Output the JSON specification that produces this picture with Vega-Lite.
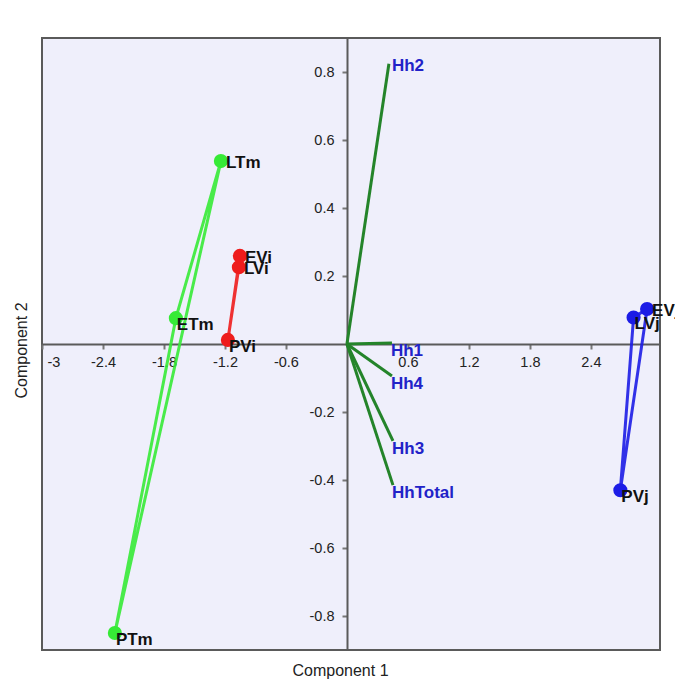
{
  "$schema": "https://vega.github.io/schema/vega-lite/v6.json",
  "width": 618,
  "height": 612,
  "autosize": "none",
  "padding": {"left": 42, "top": 38, "right": 15, "bottom": 30},
  "background": "white",
  "config": {
    "view": {"fill": "#EFEFFB", "stroke": "#5a5a5a", "strokeWidth": 2},
    "font": "Liberation Sans"
  },
  "datasets": {
    "pts": [
      {"name": "LTm", "group": "Tm", "PC1": -1.24, "PC2": 0.538},
      {"name": "ETm", "group": "Tm", "PC1": -1.683, "PC2": 0.076},
      {"name": "PTm", "group": "Tm", "PC1": -2.283, "PC2": -0.85},
      {"name": "EVi", "group": "Vi", "PC1": -1.053, "PC2": 0.259},
      {"name": "LVi", "group": "Vi", "PC1": -1.063, "PC2": 0.226},
      {"name": "PVi", "group": "Vi", "PC1": -1.171, "PC2": 0.012},
      {"name": "EVj", "group": "Vj", "PC1": 2.953, "PC2": 0.103},
      {"name": "LVj", "group": "Vj", "PC1": 2.82, "PC2": 0.078},
      {"name": "PVj", "group": "Vj", "PC1": 2.69, "PC2": -0.43}
    ],
    "tri": [
      {"group": "Tm", "ord": 1, "PC1": -2.283, "PC2": -0.85},
      {"group": "Tm", "ord": 2, "PC1": -1.683, "PC2": 0.076},
      {"group": "Tm", "ord": 3, "PC1": -1.24, "PC2": 0.538},
      {"group": "Tm", "ord": 4, "PC1": -2.283, "PC2": -0.85},
      {"group": "Vi", "ord": 1, "PC1": -1.171, "PC2": 0.012},
      {"group": "Vi", "ord": 2, "PC1": -1.063, "PC2": 0.226},
      {"group": "Vi", "ord": 3, "PC1": -1.053, "PC2": 0.259},
      {"group": "Vi", "ord": 4, "PC1": -1.171, "PC2": 0.012},
      {"group": "Vj", "ord": 1, "PC1": 2.69, "PC2": -0.43},
      {"group": "Vj", "ord": 2, "PC1": 2.82, "PC2": 0.078},
      {"group": "Vj", "ord": 3, "PC1": 2.953, "PC2": 0.103},
      {"group": "Vj", "ord": 4, "PC1": 2.69, "PC2": -0.43}
    ],
    "load": [
      {"name": "Hh1", "PC1": 0.443, "PC2": 0.003},
      {"name": "Hh2", "PC1": 0.413, "PC2": 0.824},
      {"name": "Hh3", "PC1": 0.453, "PC2": -0.285},
      {"name": "Hh4", "PC1": 0.443, "PC2": -0.094},
      {"name": "HhTotal", "PC1": 0.453, "PC2": -0.415}
    ]
  },
  "layer": [
    {
      "data": {"name": "tri"},
      "mark": {"type": "line", "strokeWidth": 3, "opacity": 0.9},
      "encoding": {
        "x": {
          "field": "PC1", "type": "quantitative",
          "scale": {"domain": [-3, 3.08], "nice": false, "zero": false},
          "axis": {
            "title": "Component 1", "offset": -306, "grid": false,
            "values": [-3, -2.4, -1.8, -1.2, -0.6, 0.6, 1.2, 1.8, 2.4],
            "labelExpr": "toString(datum.value)",
            "labelFlush": true, "labelFlushOffset": -5, "labelFontSize": 14.5, "labelColor": "#222222",
            "labelPadding": 6, "tickSize": 5, "tickColor": "#777777", "tickWidth": 2,
            "domainColor": "#5a5a5a", "domainWidth": 2,
            "titleFontSize": 16, "titleFontWeight": "normal", "titleColor": "#222222",
            "titleY": 318, "titleX": 298
          }
        },
        "y": {
          "field": "PC2", "type": "quantitative",
          "scale": {"domain": [-0.9, 0.9], "nice": false, "zero": false},
          "axis": {
            "title": "Component 2", "offset": -305, "grid": false,
            "values": [-0.8, -0.6, -0.4, -0.2, 0.2, 0.4, 0.6, 0.8],
            "labelExpr": "toString(datum.value)",
            "labelFontSize": 14.5, "labelColor": "#222222",
            "labelPadding": 8, "tickSize": 5, "tickColor": "#777777", "tickWidth": 2,
            "domainColor": "#5a5a5a", "domainWidth": 2,
            "titleFontSize": 16, "titleFontWeight": "normal", "titleColor": "#222222",
            "titleX": -318, "titleY": 312
          }
        },
        "color": {
          "field": "group", "type": "nominal",
          "scale": {"domain": ["Tm", "Vi", "Vj"], "range": ["#36ea36", "#ee1c1c", "#1c1ce6"]},
          "legend": null
        },
        "order": {"field": "ord", "type": "quantitative"}
      }
    },
    {
      "data": {"name": "load"},
      "mark": {"type": "rule", "strokeWidth": 3, "color": "#24842a"},
      "encoding": {
        "x": {"field": "PC1", "type": "quantitative"},
        "y": {"field": "PC2", "type": "quantitative"},
        "x2": {"datum": 0},
        "y2": {"datum": 0}
      }
    },
    {
      "data": {"name": "pts"},
      "mark": {"type": "circle", "size": 200, "opacity": 1},
      "encoding": {
        "x": {"field": "PC1", "type": "quantitative"},
        "y": {"field": "PC2", "type": "quantitative"},
        "color": {"field": "group", "type": "nominal", "legend": null}
      }
    },
    {
      "data": {"name": "pts"},
      "transform": [{"filter": {"field": "name", "oneOf": ["LTm", "EVi", "LVi", "EVj"]}}],
      "mark": {"type": "text", "align": "left", "baseline": "middle", "dx": 5, "dy": 2, "fontSize": 17, "fontWeight": "bold", "color": "#111111"},
      "encoding": {
        "x": {"field": "PC1", "type": "quantitative"},
        "y": {"field": "PC2", "type": "quantitative"},
        "text": {"field": "name"}
      }
    },
    {
      "data": {"name": "pts"},
      "transform": [{"filter": {"field": "name", "oneOf": ["ETm", "PTm", "PVi", "LVj", "PVj"]}}],
      "mark": {"type": "text", "align": "left", "baseline": "top", "dx": 1, "dy": -1, "fontSize": 17, "fontWeight": "bold", "color": "#111111"},
      "encoding": {
        "x": {"field": "PC1", "type": "quantitative"},
        "y": {"field": "PC2", "type": "quantitative"},
        "text": {"field": "name"}
      }
    },
    {
      "data": {"name": "load"},
      "transform": [{"filter": {"field": "name", "equal": "Hh2"}}],
      "mark": {"type": "text", "align": "left", "baseline": "middle", "dx": 3, "dy": 2, "fontSize": 17, "fontWeight": "bold", "color": "#2222c8"},
      "encoding": {
        "x": {"field": "PC1", "type": "quantitative"},
        "y": {"field": "PC2", "type": "quantitative"},
        "text": {"field": "name"}
      }
    },
    {
      "data": {"name": "load"},
      "transform": [{"filter": {"field": "name", "oneOf": ["Hh1", "Hh3", "Hh4", "HhTotal"]}}],
      "mark": {"type": "text", "align": "left", "baseline": "top", "dx": -1, "dy": 0, "fontSize": 17, "fontWeight": "bold", "color": "#2222c8"},
      "encoding": {
        "x": {"field": "PC1", "type": "quantitative"},
        "y": {"field": "PC2", "type": "quantitative"},
        "text": {"field": "name"}
      }
    }
  ]
}
